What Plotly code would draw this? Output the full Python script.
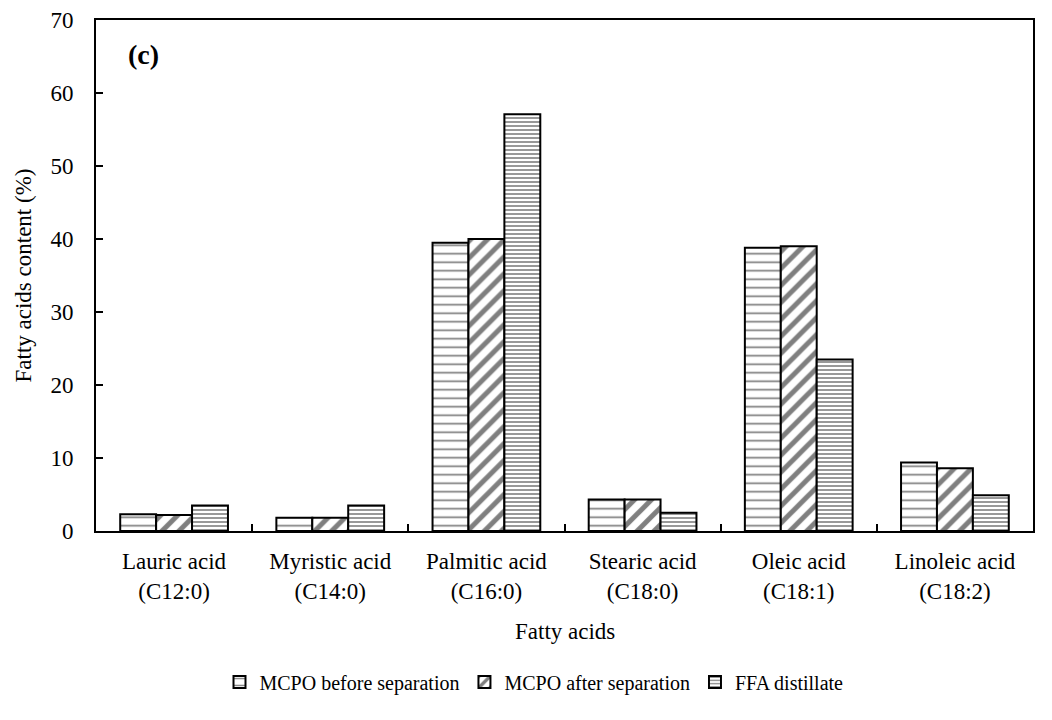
import plotly.graph_objects as go

categories = ["Lauric acid<br>(C12:0)", "Myristic acid<br>(C14:0)", "Palmitic acid<br>(C16:0)",
              "Stearic acid<br>(C18:0)", "Oleic acid<br>(C18:1)", "Linoleic acid<br>(C18:2)"]
before_sep = [2.3, 1.8, 39.5, 4.3, 38.8, 9.4]
after_sep = [2.2, 1.8, 40.0, 4.3, 39.0, 8.6]
ffa_distillate = [3.5, 3.5, 57.1, 2.5, 23.5, 4.9]
series_names = ["MCPO before separation", "MCPO after separation", "FFA distillate"]

FONT = "Liberation Serif"
FS = 23

patterns = [
    dict(shape="-", size=8.5, solidity=0.2, fgcolor="black", bgcolor="white", fillmode="overlay"),
    dict(shape="/", size=12, solidity=0.42, fgcolor="black", bgcolor="white", fillmode="overlay"),
    dict(shape="-", size=4, solidity=0.4, fgcolor="black", bgcolor="white", fillmode="overlay"),
]

fig = go.Figure()
for name, vals, pat in zip(series_names, [before_sep, after_sep, ffa_distillate], patterns):
    fig.add_trace(go.Bar(
        x=categories, y=vals, name=name,
        marker=dict(color="white", line=dict(color="black", width=2), pattern=pat),
    ))

fig.update_layout(
    width=1052, height=720,
    paper_bgcolor="white", plot_bgcolor="white",
    margin=dict(l=88, r=27, t=12, b=197, autoexpand=False),
    barmode="group", bargap=0.31, bargroupgap=0,
    font=dict(family=FONT, size=FS, color="black"),
    showlegend=True,
    legend=dict(orientation="h", xref="container", x=0.5, xanchor="center",
                yref="container", y=1 - 674 / 720, yanchor="middle",
                font=dict(family=FONT, size=20), itemwidth=30, tracegroupgap=0),
    annotations=[
        dict(text="<b>(c)</b>", xref="paper", yref="paper", x=(126 - 96) / 937, y=(531 - 54) / 511,
             xanchor="left", yanchor="middle", showarrow=False,
             font=dict(family=FONT, size=28, color="black")),
        dict(text="Fatty acids content (%)", xref="paper", yref="paper", x=0, y=0.5,
             xanchor="center", yanchor="middle", xshift=-73, textangle=-90, showarrow=False,
             font=dict(family=FONT, size=FS, color="black")),
        dict(text="Fatty acids", xref="paper", yref="paper", x=0.5, y=0,
             xanchor="center", yanchor="middle", yshift=-100, showarrow=False,
             font=dict(family=FONT, size=FS, color="black")),
    ],
)
fig.update_xaxes(
    automargin=False,
    showline=True, linecolor="black", linewidth=2, mirror=True,
    ticks="inside", tickson="boundaries", ticklen=7, tickcolor="black", tickwidth=1.5,
    ticklabelstandoff=8, ticklabeloverflow="allow",
    tickfont=dict(family=FONT, size=FS), showgrid=False,
)
fig.update_yaxes(
    automargin=False,
    range=[0, 70], dtick=10, showline=True, linecolor="black", linewidth=2, mirror=True,
    ticks="inside", ticklen=7, tickcolor="black", tickwidth=1.5,
    ticklabelstandoff=16, ticklabeloverflow="allow",
    tickfont=dict(family=FONT, size=FS), showgrid=False, zeroline=False,
)
fig.write_html("out.html")
